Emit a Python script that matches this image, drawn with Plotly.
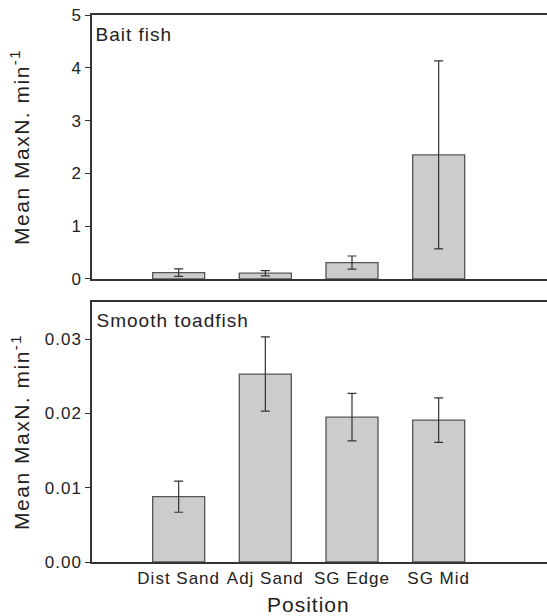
import plotly.graph_objects as go

categories = ["Dist Sand", "Adj Sand", "SG Edge", "SG Mid"]
bait_mean = [0.12, 0.11, 0.31, 2.35]
bait_se = [0.07, 0.05, 0.125, 1.78]
toad_mean = [0.0088, 0.0253, 0.0195, 0.0191]
toad_se = [0.0021, 0.0050, 0.0032, 0.0030]
bait_ticks = [0, 1, 2, 3, 4, 5]
toad_ticks = [0.0, 0.01, 0.02, 0.03]
toad_ticklabels = ["0.00", "0.01", "0.02", "0.03"]

FONT = "Liberation Sans, Arial, sans-serif"
xpos = list(range(len(categories)))

fig = go.Figure()
bar_style = dict(marker=dict(color="#cbcccd", line=dict(color="#555555", width=1.3)),
                 width=0.6, showlegend=False)
err_style = dict(type="data", color="#333333", thickness=1.2, width=4.5)

fig.add_trace(go.Bar(x=xpos, y=bait_mean, error_y=dict(array=bait_se, **err_style),
                     xaxis="x", yaxis="y", hoverinfo="skip", **bar_style))
fig.add_trace(go.Bar(x=xpos, y=toad_mean, error_y=dict(array=toad_se, **err_style),
                     xaxis="x2", yaxis="y2", hoverinfo="skip", **bar_style))

axis_line = dict(showline=True, linecolor="#333333", linewidth=1.5, showgrid=False, zeroline=False)
ytitle = "Mean MaxN. min<sup>-1</sup>"

fig.update_layout(
    width=547, height=616,
    margin=dict(l=92, r=0, t=15, b=54),
    plot_bgcolor="white", paper_bgcolor="white",
    font=dict(family=FONT, color="#222222", size=17),
    xaxis=dict(domain=[0, 1], range=[-1, 4.25], anchor="y", showticklabels=False,
               ticks="", mirror=True, **axis_line),
    yaxis=dict(domain=[0.5174, 1], range=[0, 5], tickvals=bait_ticks, anchor="x",
               ticks="outside", ticklen=5, tickcolor="#333333", tickwidth=1.2,
               tickfont=dict(size=17),
               title=dict(text=ytitle, font=dict(size=21), standoff=37),
               **axis_line),
    xaxis2=dict(domain=[0, 1], range=[-1, 4.25], anchor="y2", tickvals=xpos,
                ticktext=categories, ticks="", mirror=True, tickfont=dict(size=17),
                **axis_line),
    yaxis2=dict(domain=[0, 0.4753], range=[0, 0.035], tickvals=toad_ticks,
                ticktext=toad_ticklabels, anchor="x2",
                ticks="outside", ticklen=5, tickcolor="#333333", tickwidth=1.2,
                tickfont=dict(size=17),
                title=dict(text=ytitle, font=dict(size=21), standoff=13),
                **axis_line),
    annotations=[
        dict(text="Bait fish", xref="x domain", yref="y domain", x=0, y=1,
             xanchor="left", yanchor="middle", xshift=6, yshift=-19, showarrow=False,
             font=dict(size=19)),
        dict(text="Smooth toadfish", xref="x2 domain", yref="y2 domain", x=0, y=1,
             xanchor="left", yanchor="middle", xshift=10, yshift=-18, showarrow=False,
             font=dict(size=19)),
        dict(text="Position", xref="x2", yref="y2 domain", x=1.5, y=0,
             xanchor="center", yanchor="middle", yshift=-42, showarrow=False,
             font=dict(size=21)),
    ],
)

post = """
document.body.style.margin = '0';
document.body.style.overflow = 'hidden';
var gd = document.getElementById('{plot_id}');
function sp(sel, v) { gd.querySelectorAll(sel).forEach(function(t) { t.style.letterSpacing = v; }); }
sp('.xtick text, .x2tick text, .ytick text, .y2tick text', '1px');
sp('.ytitle, .y2title', '1.5px');
sp('.annotation-text', '1px');
"""

fig.write_html("out.html", post_script=post, config={"displayModeBar": False})
